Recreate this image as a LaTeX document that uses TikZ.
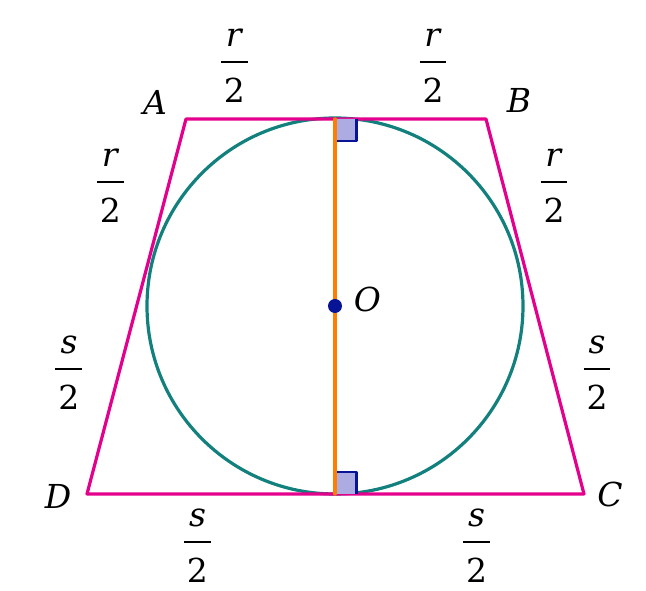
\documentclass[tikz,border=0pt]{standalone}
\usepackage{fontspec}
\setmainfont{DejaVu Serif}
\definecolor{mauhong}{RGB}{228,0,140}
\definecolor{mauluc}{RGB}{18,128,124}
\definecolor{maucam}{RGB}{255,125,0}
\definecolor{maunen}{RGB}{172,172,226}
\definecolor{mauxanh}{RGB}{8,20,150}
\newcommand{\phanhai}[1]{{\setlength\arrayrulewidth{2pt}\renewcommand\arraystretch{0.2}%
	\begin{tabular}{@{\hspace{3pt}}c@{\hspace{3pt}}}\rule[-14pt]{0pt}{54pt}\textit{#1}\\\hline
	\rule[-14pt]{0pt}{54pt}2\end{tabular}}}
\begin{document}
\begin{tikzpicture}[x=1pt,y=1pt,line join=round,line cap=round,font=\fontsize{33}{39.6}\selectfont,
	canh/.style={mauhong,line width=3.2pt},
	tron/.style={mauluc,line width=3.2pt},
	vuong/.style={mauxanh,line width=2.6pt,line cap=butt},
	nhan/.style={inner sep=0pt,text=black}]
	\useasboundingbox (-335,-285) rectangle (311,306);
	%Hình thang cân ngoại tiếp đường tròn
	\path 
	(0,0) coordinate (O)
	(-149,187) coordinate (A)
	(151,187) coordinate (B)
	(249,-188) coordinate (C)
	(-248,-188) coordinate (D)
	(0,187) coordinate (H)
	(0,-188) coordinate (K)
	;
	\draw[tron] (O) circle (188pt);
	\draw[canh] (A)--(B)--(C)--(D)--cycle;
	%Góc vuông tại H và K
	\fill[maunen] (H) rectangle ++(21.5,-22) (K) rectangle ++(21.5,22);
	\draw[vuong] ([shift={(0,-22)}]H)--++(21.5,0)--++(0,22)
	([shift={(0,22)}]K)--++(21.5,0)--++(0,-22);
	\draw[maucam,line width=3.2pt] (H)--(K);
	\foreach \t/\g/\d in {A/152/35,B/30/38,C/-2/26,D/184/29}{
		\path (\t) node[nhan,shift={(\g:\d pt)}] (n\t) {\textit{\t}};}
	\fill[mauxanh] (O) circle (7pt) node[nhan,shift={(11.5:33pt)}] (nO) {\textit{O}};
	%Độ dài các đoạn tiếp tuyến
	\foreach \x/\y/\v [count=\i] in {-100.5/244/r,98/244/r,-224.5/124/r,219/124/r,
		-266/-63/s,262/-63/s,-137.5/-236/s,141.5/-236/s}{
		\node[nhan] (f\i) at (\x,\y) {\phanhai{\v}};}
\end{tikzpicture}
\end{document}
